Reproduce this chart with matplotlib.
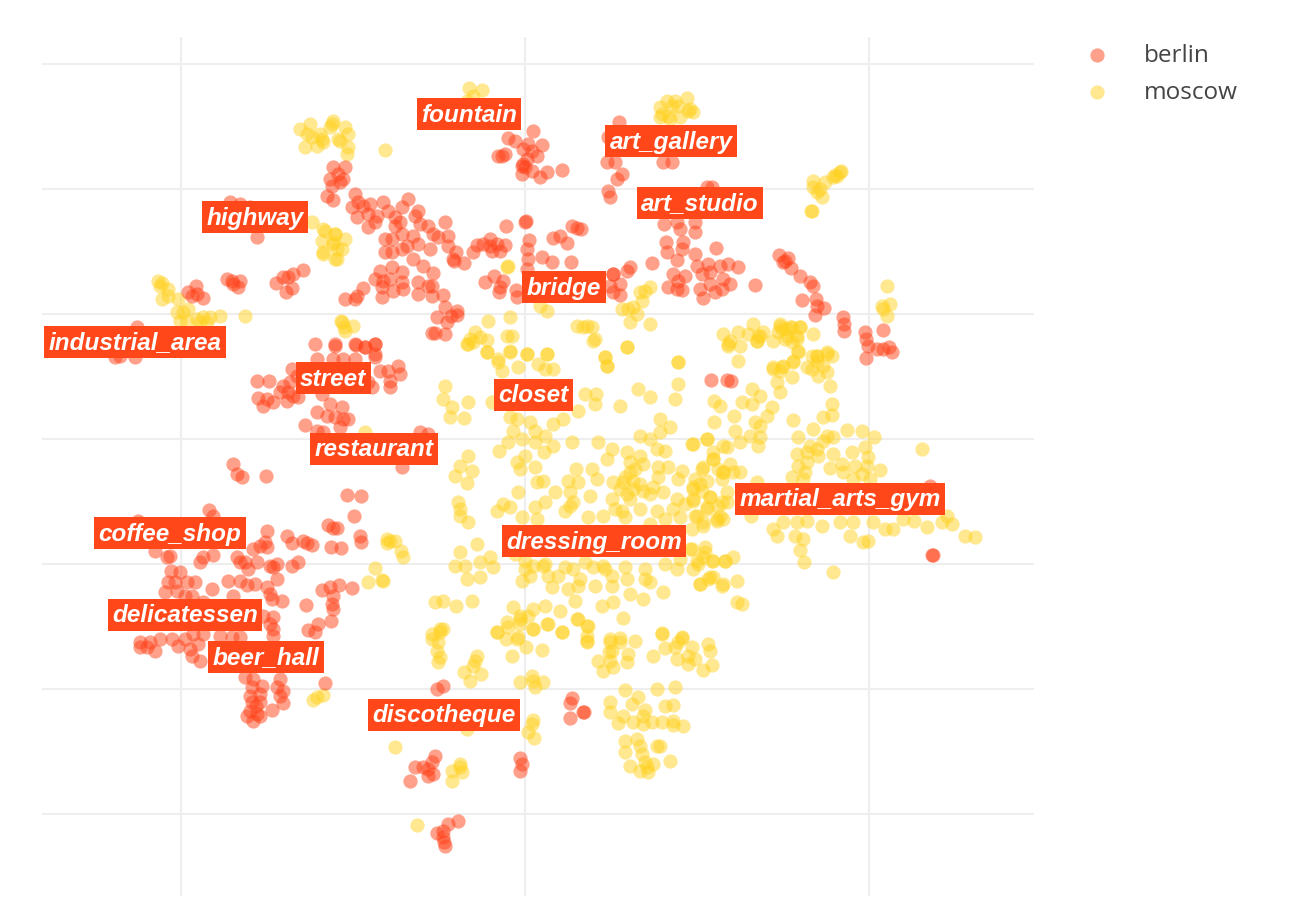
import numpy as np
import matplotlib
matplotlib.use('Agg')
import matplotlib.pyplot as plt

berlin_points = [
    # top left, highway
    (-295,237),(-285,235),(-275,232),(-268,202),(-298,160),(-293,158),(-285,158),(-287,152),(-292,155),
    (-249,156),(-242,162),(-237,162),(-232,165),(-222,169),(-233,151),(-239,147),
    (-337,147),(-329,153),(-328,145),(-322,141),(-333,143),(-410,82),(-390,82),(-388,112),(-405,83),
    # upper middle
    (-192,272),(-180,272),(-195,260),(-187,265),(-182,260),(-193,253),(-185,257),(-198,243),(-192,239),
    (-170,245),(-167,237),(-173,232),(-168,222),(-162,233),(-155,235),(-157,225),(-148,223),(-157,212),(-150,217),
    (-142,237),(-137,228),(-130,222),(-123,232),(-117,240),(-107,228),(-110,223),(-125,217),(-130,213),(-105,215),
    (-97,213),(-80,217),(-140,200),(-133,200),(-123,205),(-112,203),(-92,205),(-77,203),(-87,202),(-140,187),
    (-133,187),(-123,190),(-118,193),(-107,195),(-95,190),(-77,193),(-69,187),(-112,180),(-71,178),(-61,176),
    (-102,173),(-72,180),(-145,168),(-133,172),(-123,167),(-150,160),(-142,158),(-135,160),(-143,152),(-123,157),
    (-132,148),(-122,150),(-162,151),(-143,142),(-180,140),(-170,140),(-168,143),(-107,157),(-107,145),(-92,166),
    (-97,153),(-93,153),(-93,143),(-82,144),(-80,132),(-68,128),(-88,122),(-74,123),(-78,117),(-68,124),
    (-93,106),(-90,106),(-80,105),
    # fountain
    (8,308),(-17,301),(-10,298),(3,295),(-2,290),(17,294),(7,288),(12,283),(2,280),(-27,283),(-20,285),(-23,283),
    (-3,273),(0,272),(-3,265),(7,268),(15,262),(22,267),(37,269),(-2,275),
    # bridge
    (-19,213),(1,218),(0,217),(47,213),(52,211),(56,210),(35,203),(28,201),(42,196),(4,199),(2,190),(17,182),
    (3,180),(2,170),(27,177),(46,177),(-35,200),(-48,194),(-42,195),(-35,193),(-28,195),(-20,194),(-52,187),
    (-33,188),(-25,188),(-40,157),(-31,163),(-22,158),(-25,152),(-26,147),(-9,149),(-8,142),(88,165),(88,147),
    # art gallery, art studio
    (94,317),(83,302),(82,277),(90,277),(97,265),(92,260),(83,248),(85,242),(138,277),(147,277),
    (182,252),(187,252),(139,215),(152,217),(155,210),(170,217),(170,207),(158,197),(157,190),(141,197),(142,187),
    (152,179),(170,185),(191,191),(172,173),(127,176),(105,172),(102,168),(88,165),(95,155),(85,153),(95,144),
    (148,165),(160,163),(153,158),(143,152),(157,149),(152,150),(175,150),(178,141),(185,155),(190,147),(197,150),
    (205,155),(198,160),(177,165),(183,175),(185,167),(195,173),(203,175),(213,172),(230,154),
    # right arc
    (254,184),(263,181),(258,177),(260,178),(266,171),(275,163),(285,157),(288,153),(277,139),(291,140),(292,133),
    (299,131),(290,124),(318,122),(319,115),(319,108),(340,107),(341,100),(343,93),(358,109),(352,90),(358,90),
    (364,92),(367,87),(341,81),(186,59),(202,59),(206,58),(407,-116),(408,-116),(405,-47),
    # street
    (-210,95),(-190,95),(-170,95),(-160,92),(-150,95),(-150,82),(-208,80),(-182,80),(-170,80),(-192,80),
    (-268,58),(-256,58),(-233,70),(-242,53),(-235,57),(-228,63),(-267,41),(-258,40),(-262,33),(-252,37),(-238,38),
    (-232,43),(-227,42),(-245,47),(-237,47),(-195,35),(-183,32),(-208,27),(-198,23),(-190,22),(-177,20),(-182,20),
    (-220,14),(-208,8),(-185,12),(-202,7),(-203,45),(-137,68),(-127,73),(-125,65),(-135,58),(-135,52),(-145,68),
    (-153,52),(-170,60),(-157,57),(-212,63),(-105,7),(-97,5),(-123,-28),
    (-190,93),(-169,94),(-150,95),(-160,92),(-150,85),
    # left middle
    (-292,-25),(-288,-35),(-283,-38),(-259,-37),(-178,-56),(-164,-57),(-171,-77),(-197,-86),(-192,-89),(-188,-89),
    (-165,-97),(-164,-103),(-194,-108),(-184,-109),(-316,-71),(-312,-77),(-387,-82),(-258,-92),(-238,-97),(-233,-104),
    (-222,-102),(-218,-104),(-213,-106),(-260,-103),(-265,-107),(-258,-108),(-272,-110),(-288,-118),(-280,-123),
    (-285,-123),(-268,-123),(-277,-130),(-322,-118),(-325,-123),(-312,-116),(-255,-127),(-248,-125),(-252,-128),
    (-233,-127),(-227,-123),(-248,-140),(-297,-142),(-285,-142),(-278,-146),(-270,-145),(-258,-148),(-255,-155),
    (-253,-160),(-243,-162),(-292,-157),(-313,-150),(-203,-151),(-195,-148),(-186,-146),(-173,-149),(-192,-157),
    (-193,-165),(-192,-170),(-219,-166),(-194,-182),(-207,-185),(-217,-191),(-210,-193),(-200,-244),
    # delicatessen
    (-355,-117),(-370,-112),(-358,-118),(-354,-132),(-345,-133),(-357,-143),(-350,-143),(-338,-143),(-330,-143),
    (-360,-153),(-348,-152),(-340,-157),(-333,-157),(-322,-163),(-252,-178),(-255,-185),(-252,-190),(-262,-177),
    (-385,-203),(-375,-203),(-370,-212),(-378,-208),(-385,-208),(-365,-200),(-353,-200),(-347,-207),(-340,-200),
    (-327,-205),(-335,-210),(-333,-217),(-325,-222),(-322,-195),(-332,-195),(-305,-197),(-293,-198),(-285,-198),(-252,-197),
    # beer hall
    (-280,-238),(-272,-240),(-245,-240),(-273,-248),(-263,-247),(-248,-248),(-242,-252),(-275,-257),(-265,-255),
    (-245,-257),(-273,-263),(-265,-263),(-242,-264),(-253,-271),(-275,-272),(-278,-277),(-268,-275),(-265,-277),
    (-272,-282),(-269,-267),
    # bottom
    (-88,-250),(-82,-247),(47,-259),(45,-264),(45,-279),(58,-273),(59,-273),(-110,-328),(-102,-328),(-97,-330),
    (-90,-317),(-93,-323),(-97,-337),(-92,-335),(-115,-342),(-5,-319),(-3,-325),(-5,-332),(-67,-382),(-77,-385),
    (-88,-394),(-82,-392),(-82,-398),(-81,-403),(-80,-407),
]

moscow_points = [
    # top
    (-225,310),(-215,315),(-218,305),(-213,302),(-205,305),(-220,292),(-208,293),(-202,297),(-193,315),(-187,300),
    (-192,318),(-195,312),(-180,312),(-177,305),(-185,298),(-177,292),(-178,285),(-140,289),(-203,300),
    (-56,351),(-43,349),(-52,343),(-58,338),
    (142,338),(150,338),(162,341),(135,332),(147,333),(153,333),(137,325),(143,323),(165,330),(168,327),(155,322),
    (163,328),(145,320),(135,322),
    (315,267),(312,263),(308,262),(300,257),(288,258),(288,252),(295,250),(297,242),(286,228),(287,228),(292,247),
    (316,268),(310,264),(362,153),(357,133),(365,135),(362,123),(358,130),
    # left
    (-367,158),(-363,156),(-365,153),(-357,150),(-363,140),(-357,143),(-347,140),(-348,127),(-337,130),(-342,127),
    (-322,122),(-315,122),(-305,123),(-328,120),(-280,123),(-345,118),(-325,117),(-318,117),(-338,118),
    (-213,217),(-202,210),(-190,205),(-203,198),(-192,195),(-202,187),(-190,180),(-200,208),(-190,205),(-180,200),
    (-192,197),(-188,190),(-202,185),(-188,180),(-183,190),(-183,117),(-172,113),(-180,108),(-184,118),(-181,112),
    (-160,7),(-138,-100),(-135,-102),(-138,-104),(-130,-102),(-124,-112),(-122,-118),(-150,-129),(-157,-143),
    (-143,-141),(-142,-142),(-212,-261),(-202,-256),(-208,-258),
    # below bridge
    (-18,172),(-17,173),(15,133),(22,128),(-37,118),(-15,122),(-55,100),(-50,107),(-58,95),(-45,102),(-38,99),
    (-52,97),(-18,103),(-13,103),(-38,87),(-15,88),(2,85),(22,85),(-27,80),(52,113),(62,113),(67,112),(70,100),(58,112),
    (115,147),(125,152),(120,148),(117,138),(97,130),(103,130),(108,132),(112,125),(105,117),(125,115),(102,92),
    (153,77),(80,82),(82,73),
    # upper right
    (198,105),(205,98),(203,93),(213,107),(215,93),(228,115),(223,105),(235,103),(232,98),(238,107),(248,98),
    (255,115),(257,110),(262,110),(267,112),(275,112),(253,107),(262,103),(272,103),(267,97),(288,105),(273,87),
    (213,78),(287,83),(292,83),(302,85),(307,83),(292,77),(268,77),(257,72),(248,72),(282,72),(298,73),
    (203,95),(233,103),(232,98),(255,113),(265,112),(275,112),(260,100),(272,100),(273,88),(268,78),(258,73),(248,70),
    (255,68),(267,62),(252,57),(255,47),(292,83),(302,87),(287,70),(293,63),(302,67),(305,53),(307,35),(298,22),
    (307,24),(288,10),(268,19),(189,38),(195,33),(227,50),(217,37),(227,35),(235,43),(247,32),(242,23),(209,23),
    (189,17),(210,8),(230,17),(235,13),(225,3),(235,2),(215,-3),(233,-7),(182,0),(168,-5),
    # right, martial arts gym
    (273,2),(302,3),(308,2),(298,-2),(322,9),(337,8),(349,2),(285,-7),(292,-10),(293,-17),(282,-13),(272,-15),
    (308,-15),(327,-13),(340,-8),(343,-18),(397,-10),(273,-27),(282,-23),(280,-33),(305,-29),(317,-25),(318,-33),
    (330,-27),(355,-31),(342,-27),(337,-35),(267,-38),(278,-40),(328,-40),(345,-40),(232,-43),(258,-83),(272,-83),
    (282,-82),(297,-87),(315,-83),(328,-83),(348,-83),(360,-90),(368,-90),(378,-80),(389,-82),(402,-88),(417,-83),
    (427,-85),(422,-77),(440,-97),(450,-98),(248,-90),(252,-97),(270,-97),(278,-100),(325,-97),(338,-103),(343,-102),
    (275,-111),(279,-123),(308,-133),(226,-77),
    (188,-20),(202,-8),(205,-25),(193,-30),(198,-33),(208,-33),(215,-33),(178,-28),(170,-40),(182,-42),(197,-40),
    (168,-50),(177,-52),(185,-58),(202,-53),(168,-62),(182,-68),(193,-67),(202,-63),(170,-77),(178,-83),(192,-80),
    (198,-80),(167,-90),(165,-110),(180,-108),(178,-118),(173,-125),(188,-122),(200,-122),(208,-118),(175,-145),
    (185,-138),(198,-145),(212,-142),(212,-163),(217,-165),
    # centre, closet
    (-57,95),(-38,87),(-27,77),(-23,68),(-15,87),(2,85),(-7,72),(13,75),(22,85),(20,70),(28,70),(68,98),(102,92),
    (80,82),(82,73),(153,77),(153,55),(113,50),(125,42),(150,40),(95,33),(60,45),(71,45),(70,35),(53,28),(-80,53),
    (-82,40),(-73,32),(-57,37),(-75,22),(-61,21),(-33,37),(-15,22),(-8,20),(5,17),(-12,8),(10,8),(28,15),(38,20),
    (-17,-3),(-3,0),(10,-3),(20,3),(28,-7),(19,-13),(-26,-12),(47,-3),(-8,-23),(-5,-30),(0,-17),(10,-28),(-57,-17),
    (-65,-27),(-70,-37),(-53,-32),(-58,-44),(12,-43),(18,-42),(-7,-53),(30,-53),(-67,-63),(-65,-70),(-65,-77),
    (-57,-83),(-28,-72),(-22,-65),(-15,-68),(20,-63),(10,-68),(-3,-78),(12,-80),(40,-72),(48,-63),(45,-67),(63,-78),
    (78,-77),(51,-30),(67,-30),(53,-43),(43,-42),(72,-40),(65,-57),(45,-53),(88,-43),(102,-13),(105,-23),(115,-17),
    (82,-20),(73,-3),(87,-10),(115,3),(125,0),(135,20),(145,12),(135,7),(132,-10),(140,-12),(167,-5),(182,0),(188,-13),
    (133,-28),(143,-28),(118,-25),(105,-33),(98,-43),(108,-50),(133,-38),(157,-32),(153,-40),(177,-30),(188,-20),
    (198,-7),(198,-33),(168,-48),(185,-58),(197,-63),(102,-55),(125,-55),(138,-53),(152,-60),(168,-60),(87,-60),
    (115,-70),(132,-72),(148,-70),(97,-72),(172,-77),(182,-70),(195,-77),(178,-87),(192,-82),
    (100,-38),(108,-42),(115,-45),(110,-30),(95,-50),(105,-60),(118,-52),(128,-48),(90,-70),(100,-78),(160,-65),
    (175,-45),(155,-78),(140,-80),(125,-85),
    # below dressing room
    (167,-110),(180,-113),(187,-122),(200,-122),(172,-122),(-48,-105),(-65,-113),(-70,-127),(-60,-127),(-45,-123),
    (-35,-118),(-32,-128),(-45,-138),(-58,-140),(0,-130),(8,-127),(5,-137),(-3,-142),(23,-137),(33,-137),(18,-127),
    (48,-130),(55,-140),(68,-128),(78,-127),(27,-148),(43,-150),(53,-147),(50,-162),(70,-147),(87,-147),(87,-137),
    (102,-140),(105,-155),(120,-140),(118,-160),(125,-143),(138,-153),(152,-130),(168,-130),(175,-145),(183,-140),
    (197,-147),(188,-138),(-53,-162),(-82,-162),(-90,-163),(-69,-167),(-12,-168),(8,-170),(20,-167),(35,-172),
    (77,-167),(88,-163),(98,-179),(-5,-177),(3,-177),(22,-185),(52,-180),(62,-187),(-28,-193),(-17,-188),(-5,-185),
    (8,-190),(37,-193),(-85,-190),(-93,-195),(137,-194),(157,-198),(85,-200),(95,-199),(62,-197),(-7,-198),
    (0,-122),(20,-125),(40,-128),(60,-123),(80,-130),(100,-128),(120,-130),(140,-125),(155,-120),(-10,-115),(10,-110),
    # bottom
    (-82,-190),(-85,-193),(-93,-200),(-87,-203),(-88,-212),(-85,-218),(-87,-223),(-48,-217),(-50,-222),(-52,-227),
    (-61,-233),(-44,-235),(-55,-242),(-18,-183),(-28,-193),(-19,-200),(-8,-200),(-13,-217),(1,-208),(17,-211),(-5,-180),
    (8,-190),(23,-185),(37,-193),(62,-202),(62,-203),(53,-180),(63,-187),(7,-237),(-5,-243),(10,-248),(18,-243),(8,-242),
    (8,-281),(7,-285),(3,-293),(9,-299),(84,-213),(85,-203),(95,-203),(110,-202),(73,-222),(87,-212),(85,-222),(78,-232),
    (88,-228),(102,-223),(103,-215),(128,-217),(137,-195),(140,-209),(150,-208),(157,-199),(153,-203),(152,-220),
    (163,-217),(167,-208),(170,-220),(163,-225),(178,-231),(187,-226),(183,-205),(185,-212),
    (100,-251),(132,-250),(150,-248),(85,-263),(113,-258),(107,-265),(85,-273),(140,-267),(148,-266),(120,-271),
    (98,-277),(118,-277),(93,-284),(108,-283),(118,-285),(127,-283),(137,-283),(148,-286),(158,-287),(148,-282),
    (100,-302),(112,-300),(100,-313),(115,-307),(117,-315),(132,-307),(135,-307),(105,-327),(115,-332),(123,-333),
    (128,-325),(145,-322),(120,-323),(122,-328),(-130,-308),(-65,-325),(-73,-332),(-63,-333),(-73,-342),(-65,-328),
    (-108,-386),(-58,-290),
]

label_names = ['fountain', 'art_gallery', 'art_studio', 'highway', 'bridge', 'industrial_area', 'street', 'closet',
               'restaurant', 'martial_arts_gym', 'coffee_shop', 'dressing_room', 'delicatessen', 'beer_hall', 'discotheque']
label_x = [-56, 146, 175, -270, 39, -390, -192, 8, -151, 315, -355, 69, -340, -259, -81]
label_y = [325, 298, 236, 222, 152, 97, 61, 44, -10, -60, -94, -102, -176, -218, -276]

grid_x = [-344, 0, 344]
grid_y = [375, 250, 125, 0, -125, -250, -375]

berlin_color = '#ff4219'
moscow_color = '#ffd220'

W, H = 1290, 904
fig = plt.figure(figsize=(W / 100, H / 100), dpi=100)
ax = fig.add_axes([42 / W, 1 - 897 / H, 992 / W, 859 / H])
ax.set_xlim(-483, 509)
ax.set_ylim(-457, 402)

ax.set_xticks(grid_x)
ax.set_yticks(grid_y)
ax.grid(color='#eeeeee', linewidth=1.5)
ax.set_axisbelow(True)
ax.tick_params(length=0, labelbottom=False, labelleft=False)
for s in ax.spines.values():
    s.set_visible(False)

bx, by = zip(*berlin_points)
mx, my = zip(*moscow_points)
ax.scatter(mx, my, s=105, c=moscow_color, alpha=0.5, linewidths=0, label='moscow', zorder=2)
ax.scatter(bx, by, s=105, c=berlin_color, alpha=0.5, linewidths=0, label='berlin', zorder=3)

for name, lx, ly in zip(label_names, label_x, label_y):
    ax.text(lx, ly, name, color='white', fontsize=17.5, fontweight='bold', fontstyle='italic',
            family='Liberation Sans', ha='center', va='center', zorder=5,
            bbox=dict(facecolor='#ff471a', edgecolor='none', boxstyle='square,pad=0.18'))

handles, labels = ax.get_legend_handles_labels()
leg = ax.legend(handles[::-1], labels[::-1], loc='upper left', bbox_to_anchor=(1073 / W, 1 - 44 / H),
                bbox_transform=fig.transFigure, frameon=False, prop={'family': 'Open Sans', 'size': 17.5},
                labelcolor='#444444', labelspacing=0.55, handletextpad=0.9, borderpad=0, borderaxespad=0,
                scatterpoints=1, markerscale=1.0)

fig.savefig('out.png', dpi=100)
